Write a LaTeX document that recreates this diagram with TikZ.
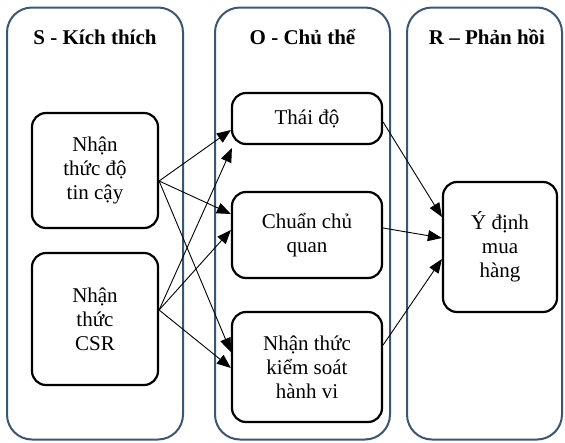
\documentclass[tikz,border=0pt]{standalone}
\usepackage{fontspec}
\setmainfont{Liberation Serif}
\usetikzlibrary{arrows.meta}
\definecolor{framecol}{RGB}{59,86,112}
\begin{document}
\begin{tikzpicture}[x=1pt,y=-1pt,
  outerbox/.style={draw=framecol, line width=2pt, rounded corners=25pt, inner sep=0pt},
  titletext/.style={font=\fontsize{21}{24}\selectfont\bfseries, inner sep=0pt},
  box/.style={draw=black, line width=2.2pt, rounded corners=14pt, fill=white, align=center, font=\fontsize{21}{24}\selectfont, inner sep=0pt},
  arr/.style={line width=0.9pt, -{Triangle[length=14pt,width=11pt]}}
]
\useasboundingbox (0,0) rectangle (565,442);
% outer frames
\node[outerbox, minimum width=176pt, minimum height=432pt] (Sbox) at (95,223.5) {};
\node[outerbox, minimum width=175pt, minimum height=432pt] (Obox) at (302.5,223.5) {};
\node[outerbox, minimum width=155pt, minimum height=432pt] (Rbox) at (484.5,223.5) {};
\node[titletext] (St) at (95,37) {S - Kích thích};
\node[titletext] (Ot) at (302.5,37) {O - Chủ thể};
\node[titletext] (Rt) at (487,37) {R – Phản hồi};
% inner boxes
\node[box, minimum width=126pt, minimum height=115pt] (A) at (95,170.5) {Nhận\\thức độ\\tin cậy};
\node[box, minimum width=126pt, minimum height=132pt] (B) at (95,319) {Nhận\\thức\\CSR};
\node[box, minimum width=150pt, minimum height=51pt] (T) at (307,118.5) {Thái độ};
\node[box, minimum width=150pt, minimum height=86pt] (C) at (307,235) {Chuẩn chủ\\quan};
\node[box, minimum width=150pt, minimum height=110pt] (K) at (307,367) {Nhận thức\\kiểm soát\\hành vi};
\node[box, minimum width=114pt, minimum height=130pt] (Y) at (500,247) {Ý định\\mua\\hàng};
% arrows
\draw[arr] ([yshift=-10.5pt]A.east) -- ([yshift=-11.5pt]T.west);
\draw[arr] ([yshift=-10.5pt]A.east) -- ([yshift=21pt]C.west);
\draw[arr] ([yshift=-10.5pt]A.east) -- ([yshift=15pt]K.west);
\draw[arr] ([yshift=9pt]B.east) -- ([xshift=1pt,yshift=-3pt]T.south west);
\draw[arr] ([yshift=9pt]B.east) -- ([yshift=5pt]C.west);
\draw[arr] ([yshift=9pt]B.east) -- ([yshift=-1pt]K.west);
\draw[arr] ([yshift=-3.5pt]T.east) -- ([yshift=30pt]Y.west);
\draw[arr] ([yshift=7pt]C.east) -- ([yshift=9pt]Y.west);
\draw[arr] ([yshift=22pt]K.east) -- ([yshift=-12pt]Y.west);
\end{tikzpicture}
\end{document}
